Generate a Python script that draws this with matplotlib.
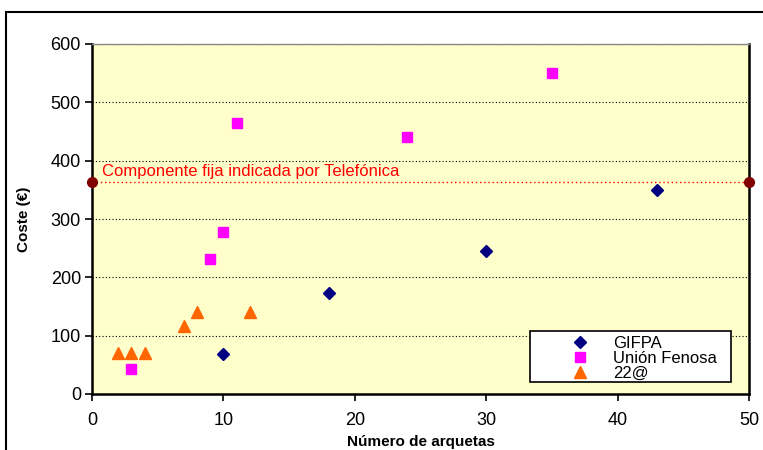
import matplotlib
matplotlib.use("Agg")
import matplotlib.pyplot as plt
from matplotlib.patches import Rectangle

plt.rcParams['font.family'] = ['Liberation Sans', 'DejaVu Sans']

gifpa_x = [10, 18, 30, 43]
gifpa_y = [69, 174, 246, 349]
uf_x = [3, 9, 10, 11, 24, 35]
uf_y = [43, 231, 277, 465, 441, 551]
t22_x = [2, 3, 4, 7, 8, 12]
t22_y = [71, 71, 71, 117, 140, 140]
fija_x = [0, 50]
fija_y = [363, 363]
xticks = [0, 10, 20, 30, 40, 50]
yticks = [0, 100, 200, 300, 400, 500, 600]

W, H = 763, 450
fig = plt.figure(figsize=(7.63, 4.5), dpi=100)
ax = fig.add_axes([92/W, 1-394/H, (749-92)/W, (394-44)/H])
ax.set_facecolor('#FFFFCC')

# outer frame
fig.patches.append(Rectangle((6/W, -0.1), 1.2, 1-12/H+0.1, transform=fig.transFigure,
                             fill=False, edgecolor='black', linewidth=1.5))

for v in yticks[1:]:
    ax.axhline(v, color='black', linestyle=(0, (1, 2)), linewidth=0.8, zorder=1)

ax.plot(fija_x, fija_y, color='red', linestyle=(0, (1, 2)), linewidth=1.0, zorder=2)
ax.plot(fija_x, fija_y, 'o', color='#800000', markersize=7, clip_on=False, zorder=5, linestyle='none')
ax.text(0.75, 381, 'Componente fija indicada por Telefónica', color='red', fontsize=12, va='center', ha='left')

ax.plot(gifpa_x, gifpa_y, 'D', color='#000080', markersize=6.5, linestyle='none', label='GIFPA', zorder=4)
ax.plot(uf_x, uf_y, 's', color='#FF00FF', markersize=7, linestyle='none', label='Unión Fenosa', zorder=4)
ax.plot(t22_x, t22_y, '^', color='#FF6600', markersize=8.5, linestyle='none', label='22@', zorder=4)

ax.set_xlim(0, 50)
ax.set_ylim(0, 600)
ax.set_xticks(xticks)
ax.set_yticks(yticks)
ax.tick_params(axis='both', direction='out', length=5, width=1.2, labelsize=13, colors='black')
ax.tick_params(axis='x', pad=8)
ax.tick_params(axis='y', pad=3)
for s in ['left', 'bottom', 'right']:
    ax.spines[s].set_linewidth(1.8)
ax.spines['top'].set_color('#888888')
ax.spines['top'].set_linewidth(1.0)

ax.set_xlabel('Número de arquetas', fontsize=11, fontweight='bold', labelpad=4)
ax.set_ylabel('Coste (€)', fontsize=11, fontweight='bold', labelpad=14)

# legend box
fig.patches.append(Rectangle((530/W, 1-382/H), (731-530)/W, (382-331)/H, transform=fig.transFigure,
                             facecolor='white', edgecolor='black', linewidth=1.2, zorder=3))
leg = fig.legend(*ax.get_legend_handles_labels(), loc='upper left', bbox_to_anchor=(530/W, 1-334/H),
                 bbox_transform=fig.transFigure,
                 fontsize=12, frameon=False,
                 handletextpad=-0.92, borderpad=0.1, labelspacing=0.0, borderaxespad=0,
                 handlelength=5.8)
leg.set_zorder(4)

fig.savefig('out.png', dpi=100)
